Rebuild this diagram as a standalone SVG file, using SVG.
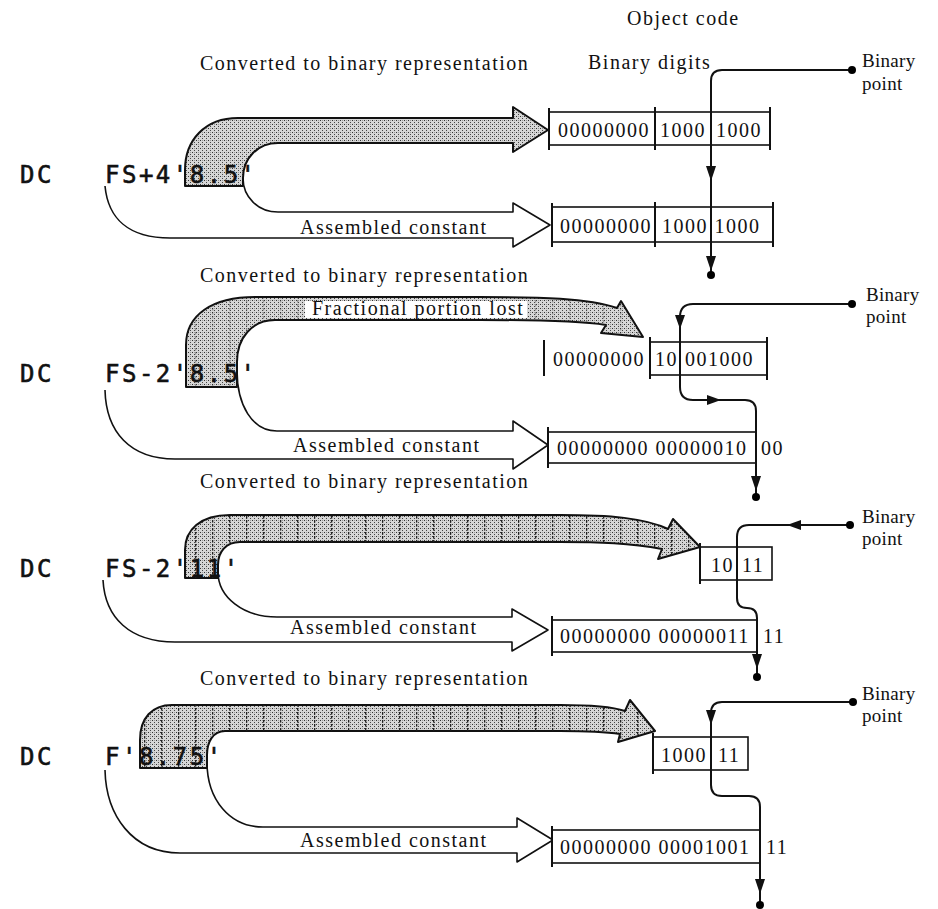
<svg xmlns="http://www.w3.org/2000/svg" width="938" height="909" viewBox="0 0 938 909">
<style>
.t{font-family:"Liberation Serif","Times New Roman",serif;font-size:20px;letter-spacing:1.5px;fill:#111}
.s{font-size:19px;letter-spacing:.3px}
.m{font-family:"DejaVu Sans Mono","Liberation Mono",monospace;font-size:24px;letter-spacing:2.5px;fill:#111;stroke:#111;stroke-width:0.6}
.ln{fill:none;stroke:#111;stroke-width:2}
.ol{fill:none;stroke:#111;stroke-width:1.6;stroke-linejoin:round}
.sh{fill:url(#dots);stroke:#111;stroke-width:2;stroke-linejoin:round}
.vs{fill:url(#vs);stroke:none}
.bx{fill:#fff;stroke:#111;stroke-width:1.6}
.tk{stroke:#111;stroke-width:2}
.ah{fill:#111}
</style>
<defs>
<pattern id="dots" width="4" height="4" patternUnits="userSpaceOnUse">
<rect width="4" height="4" fill="#d6d6d6"/>
<rect x="0" y="0" width="1" height="1" fill="#333"/>
<rect x="2" y="2" width="1" height="1" fill="#444"/>
<rect x="2" y="0" width="1" height="1" fill="#999"/>
</pattern>
<pattern id="vs" width="17" height="4" patternUnits="userSpaceOnUse">
<rect x="8" y="0" width="1.3" height="2.6" fill="#222"/>
</pattern>
</defs>

<!-- headers -->
<text class="t" x="627" y="25">Object code</text>
<text class="t" x="200" y="70">Converted to binary representation</text>
<text class="t" x="588" y="69" letter-spacing="0.5">Binary digits</text>
<text class="t" x="200" y="282">Converted to binary representation</text>
<text class="t" x="200" y="488">Converted to binary representation</text>
<text class="t" x="200" y="685">Converted to binary representation</text>

<g id="connectors">
<!-- section 1 -->
<path class="sh" d="M513 118 H238 C205 118 185 140 185 170 V186 H243 V178 C243 158 258 143 278 143 H513 V152 L548 130 L513 107 Z"/>
<path class="ol" d="M105 186 C108 218 128 238 170 238 H513 V247 L550 225 L513 203 V212 H278 C258 212 243 197 243 178"/>
<!-- section 2 -->
<path class="sh" d="M617 308 L621 301 L643 337 L601 333 L606 325 C580 321 540 320 480 320 H275 C252 320 237 338 237 362 V387 H186 V345 C186 315 212 297 255 297 H480 C540 297 588 298 617 308 Z"/>
<path class="vs" d="M617 308 L621 301 L643 337 L601 333 L606 325 C580 321 540 320 480 320 H275 C252 320 237 338 237 362 V387 H186 V345 C186 315 212 297 255 297 H480 C540 297 588 298 617 308 Z" opacity="0.35"/>
<path class="ol" d="M105 390 C106 432 130 459 175 459 H513 V469 L548 445 L513 421 V431 H277 C252 431 237 405 237 370"/>
<!-- section 3 -->
<path class="sh" d="M668 529 L673 519 L700 547 L658 559 L662 549 C630 543 600 542 560 542 H240 C226 542 218 552 218 565 V578 H185 V550 C185 530 200 515 230 515 H560 C610 515 645 518 668 529 Z"/>
<path class="vs" d="M668 529 L673 519 L700 547 L658 559 L662 549 C630 543 600 542 560 542 H240 C226 542 218 552 218 565 V578 H185 V550 C185 530 200 515 230 515 H560 C610 515 645 518 668 529 Z"/>
<path class="ol" d="M103 580 C105 618 130 642 175 642 H512 V651 L548 630 L512 609 V617 H277 C243 617 218 597 218 572"/>
<!-- section 4 -->
<path class="sh" d="M625 711 L630 700 L655 731 L618 742 L620 734 C600 731 580 731 560 731 H225 C213 731 207 742 207 755 V768 H140 V740 C140 718 152 705 172 705 H560 C590 705 610 706 625 711 Z"/>
<path class="vs" d="M625 711 L630 700 L655 731 L618 742 L620 734 C600 731 580 731 560 731 H225 C213 731 207 742 207 755 V768 H140 V740 C140 718 152 705 172 705 H560 C590 705 610 706 625 711 Z"/>
<path class="ol" d="M105 770 C106 815 132 853 180 853 H517 V862 L553 840 L517 818 V827 H263 C230 827 207 800 207 762"/>
</g>

<!-- arrow labels -->
<rect x="305" y="301" width="222" height="17" fill="#fff"/>
<text class="t" x="312" y="315">Fractional portion lost</text>
<text class="t" x="300" y="234">Assembled constant</text>
<text class="t" x="293" y="452">Assembled constant</text>
<text class="t" x="290" y="634">Assembled constant</text>
<text class="t" x="300" y="847">Assembled constant</text>

<!-- source statements -->
<g id="stmt1"><text class="m" x="20" y="183">DC</text><text class="m" x="105" y="183">FS+4'8.5'</text></g>
<g id="stmt2"><text class="m" x="20" y="382">DC</text><text class="m" x="105" y="382">FS-2'8.5'</text></g>
<g id="stmt3"><text class="m" x="20" y="577">DC</text><text class="m" x="105" y="577">FS-2'11'</text></g>
<g id="stmt4"><text class="m" x="20" y="765">DC</text><text class="m" x="105" y="765">F'8.75'</text></g>

<!-- boxes -->
<g id="box1">
<rect class="bx" x="549" y="112" width="221" height="33"/>
<line class="tk" x1="549" y1="108" x2="549" y2="150"/>
<line class="tk" x1="655" y1="107" x2="655" y2="150"/>
<line class="tk" x1="770" y1="107" x2="770" y2="150"/>
<text class="t" x="558" y="137">00000000</text><text class="t" x="660" y="137">1000</text><text class="t" x="716" y="137">1000</text>
</g>
<g id="box2">
<rect class="bx" x="552" y="207" width="221" height="35"/>
<line class="tk" x1="552" y1="203" x2="552" y2="247"/>
<line class="tk" x1="655" y1="202" x2="655" y2="247"/>
<line class="tk" x1="773" y1="202" x2="773" y2="247"/>
<text class="t" x="560" y="233">00000000</text><text class="t" x="662" y="233">1000 1000</text>
</g>
<g id="box2a">
<line class="tk" x1="544" y1="340" x2="544" y2="376"/>
<rect class="bx" x="650" y="342" width="117" height="33"/>
<line class="tk" x1="650" y1="337" x2="650" y2="379"/>
<line class="tk" x1="767" y1="337" x2="767" y2="380"/>
<text class="t" x="553" y="366">00000000</text><text class="t" x="655" y="366">10</text><text class="t" x="685" y="366">001000</text>
</g>
<g id="box2b">
<rect class="bx" x="548" y="432" width="208" height="31"/>
<line class="tk" x1="548" y1="427" x2="548" y2="468"/>
<text class="t" x="557" y="455">00000000 00000010</text><text class="t" x="761" y="455">00</text>
</g>
<g id="box3a">
<rect class="bx" x="700" y="547" width="72" height="33"/>
<line class="tk" x1="700" y1="543" x2="700" y2="584"/>
<text class="t" x="711" y="572">10</text><text class="t" x="742" y="572">11</text>
</g>
<g id="box3b">
<rect class="bx" x="552" y="620" width="205" height="32"/>
<line class="tk" x1="552" y1="616" x2="552" y2="656"/>
<text class="t" x="560" y="643">00000000 00000011</text><text class="t" x="763" y="643">11</text>
</g>
<g id="box4a">
<rect class="bx" x="653" y="737" width="95" height="33"/>
<line class="tk" x1="653" y1="733" x2="653" y2="774"/>
<text class="t" x="661" y="762">1000</text><text class="t" x="718" y="762">11</text>
</g>
<g id="box4b">
<rect class="bx" x="552" y="830" width="208" height="33"/>
<line class="tk" x1="552" y1="826" x2="552" y2="867"/>
<text class="t" x="560" y="854">00000000 00001001</text><text class="t" x="766" y="854">11</text>
</g>

<!-- binary point leaders -->
<g id="bp1">
<path class="ln" d="M852 70 H722 Q711 70 711 81 V275"/>
<polygon class="ah" points="706,166 716,166 711,181"/>
<polygon class="ah" points="706,256 716,256 711,271"/>
<circle cx="852" cy="70" r="4"/><circle cx="711" cy="275" r="4"/>
<text class="t s" x="862" y="67">Binary</text><text class="t s" x="862" y="90">point</text>
</g>
<g id="bp2">
<path class="ln" d="M852 304 H693 Q680 304 680 317 V387 Q680 400 693 400 H745 Q756 400 756 411 V497"/>
<polygon class="ah" points="675,315 685,315 680,329"/>
<polygon class="ah" points="707,395 707,405 721,400"/>
<polygon class="ah" points="751,476 761,476 756,491"/>
<circle cx="852" cy="304" r="4"/><circle cx="756" cy="497" r="4"/>
<text class="t s" x="866" y="301">Binary</text><text class="t s" x="866" y="323">point</text>
</g>
<g id="bp3">
<path class="ln" d="M850 525 H749 Q737 525 737 537 V598 Q737 608 747 608 Q757 608 757 618 V677"/>
<polygon class="ah" points="801,520 801,530 787,525"/>
<polygon class="ah" points="752,654 762,654 757,669"/>
<circle cx="850" cy="525" r="4"/><circle cx="757" cy="677" r="4"/>
<text class="t s" x="862" y="523">Binary</text><text class="t s" x="862" y="545">point</text>
</g>
<g id="bp4">
<path class="ln" d="M853 702 H722 Q711 702 711 713 V785 Q711 796 722 796 H749 Q760 796 760 807 V905"/>
<polygon class="ah" points="706,710 716,710 711,725"/>
<polygon class="ah" points="755,879 765,879 760,894"/>
<circle cx="853" cy="702" r="4"/><circle cx="760" cy="905" r="4"/>
<text class="t s" x="862" y="700">Binary</text><text class="t s" x="862" y="722">point</text>
</g>
</svg>
